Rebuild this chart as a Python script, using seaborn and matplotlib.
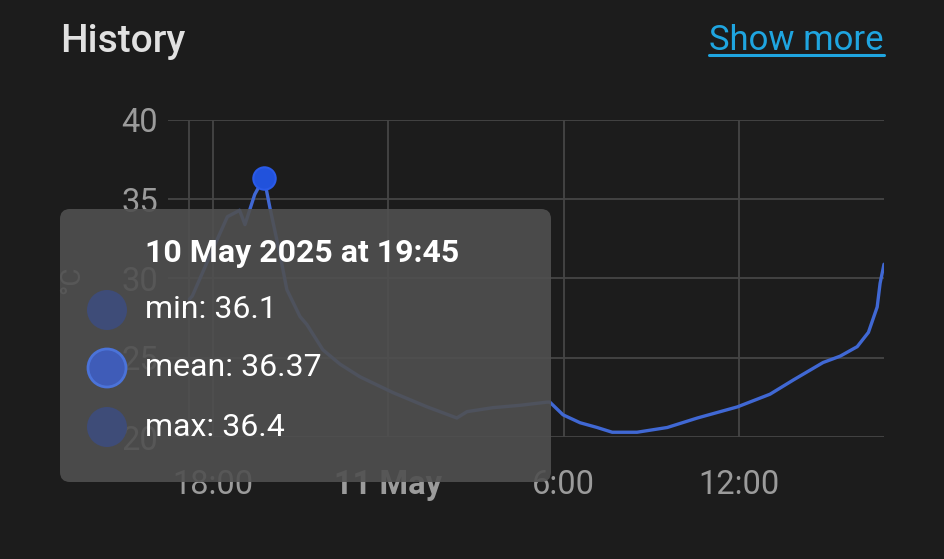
import matplotlib
matplotlib.use('Agg')
import matplotlib.pyplot as plt
import seaborn as sns
import pandas as pd
from matplotlib.patches import FancyBboxPatch, Circle
from matplotlib.lines import Line2D

sns.set_theme(style='dark')
plt.rcParams['font.family'] = ['Roboto', 'DejaVu Sans']

# temperature history (°C)
times = [
    '2025-05-10 17:12', '2025-05-10 17:18', '2025-05-10 17:55', '2025-05-10 18:30',
    '2025-05-10 18:55', '2025-05-10 19:06', '2025-05-10 19:26', '2025-05-10 19:45',
    '2025-05-10 19:57', '2025-05-10 20:18', '2025-05-10 20:32', '2025-05-10 20:59',
    '2025-05-10 21:13', '2025-05-10 21:46', '2025-05-10 22:21', '2025-05-10 23:02',
    '2025-05-11 00:10', '2025-05-11 01:20', '2025-05-11 02:21', '2025-05-11 02:42',
    '2025-05-11 03:35', '2025-05-11 04:31', '2025-05-11 05:26', '2025-05-11 05:32',
    '2025-05-11 05:59', '2025-05-11 06:34', '2025-05-11 07:09', '2025-05-11 07:40',
    '2025-05-11 08:31', '2025-05-11 09:33', '2025-05-11 10:35', '2025-05-11 11:57',
    '2025-05-11 13:04', '2025-05-11 13:52', '2025-05-11 14:53', '2025-05-11 15:28',
    '2025-05-11 16:03', '2025-05-11 16:26', '2025-05-11 16:44', '2025-05-11 16:50',
    '2025-05-11 16:58',
]
temps = [
    28.7, 28.9, 31.5, 33.9, 34.3, 33.4, 35.3, 36.37, 34.5, 31.5, 29.3, 27.6,
    27.1, 25.5, 24.6, 23.8, 22.8, 21.9, 21.2, 21.6, 21.85, 22.0, 22.2, 22.2,
    21.4, 20.9, 20.6, 20.3, 20.3, 20.6, 21.2, 21.9, 22.7, 23.6, 24.7, 25.1,
    25.7, 26.6, 28.2, 29.7, 30.9,
]

x_ticks = ['2025-05-10 18:00', '2025-05-11 00:00', '2025-05-11 06:00', '2025-05-11 12:00']
x_tick_labels = ['18:00', '11 May', '6:00', '12:00']
y_ticks = [20, 25, 30, 35, 40]
view_start = '2025-05-10 16:28'

hover_time = '2025-05-10 19:45'
hover_title = '10 May 2025 at 19:45'
hover_names = ['min', 'mean', 'max']
hover_values = ['36.1', '36.37', '36.4']

BG = '#1c1c1c'
GRID = '#454545'
LABEL = '#9b9b9b'
BLUE = '#4068d4'

df = pd.DataFrame({'time': pd.to_datetime(times), 'temp': temps})
W, H = 945, 559

fig = plt.figure(figsize=(W / 100, H / 100), dpi=100, facecolor=BG)
ax = fig.add_axes([168 / W, 1 - 437 / H, 716 / W, 317 / H])
ax.set_facecolor(BG)

sns.lineplot(data=df, x='time', y='temp', ax=ax, color=BLUE, linewidth=2.4, zorder=3)
peak = df[df['time'] == pd.Timestamp(hover_time)]
sns.scatterplot(data=peak, x='time', y='temp', ax=ax, s=260, color='#2152dc',
                edgecolor='#2a5ae8', linewidth=1.5, zorder=4)

ax.axvline(df['time'].iloc[0], color=GRID, linewidth=1.3, zorder=1)
ax.set_xlim(pd.Timestamp(view_start), df['time'].iloc[-1])
ax.set_ylim(y_ticks[0], y_ticks[-1])
ax.set_yticks(y_ticks)
ax.set_xticks(pd.to_datetime(x_ticks))
ax.set_xticklabels(x_tick_labels)
ax.get_xticklabels()[1].set_fontweight('bold')
ax.grid(True, color=GRID, linewidth=1.3)
for s in ax.spines.values():
    s.set_visible(False)
ax.tick_params(axis='x', colors=LABEL, labelsize=23.5, length=15, width=1.3,
               direction='out', pad=8)
ax.tick_params(axis='x', which='major', color=GRID)
ax.tick_params(axis='y', colors=LABEL, labelsize=23.5, length=0, pad=7)
ax.set_xlabel('')
ax.set_ylabel('°C', color=LABEL, fontsize=20)
ax.yaxis.set_label_coords(-0.116, 0.495)

# card header
fig.text(60 / W, 1 - 42 / H, 'History', color='#e1e1e1', fontsize=28,
         fontweight='medium', va='center', ha='left')
more = fig.text(884 / W, 1 - 40 / H, 'Show more', color='#1fa5e0', fontsize=25,
                va='center', ha='right')
fig.canvas.draw()
bb = more.get_window_extent()
fig.add_artist(Line2D([bb.x0 / W, bb.x1 / W], [1 - 55 / H, 1 - 55 / H],
                      color='#1fa5e0', linewidth=2.2))

# hover tooltip (pixel positions converted to inches)
tr = fig.dpi_scale_trans
def px(x, y):
    return x / 100, (H - y) / 100

box = FancyBboxPatch(px(60, 482), 491 / 100, 273 / 100,
                     boxstyle='round,pad=0,rounding_size=0.1',
                     transform=tr, facecolor='#505050', edgecolor='none',
                     alpha=0.9, zorder=5)
fig.add_artist(box)
fig.text(145 / W, 1 - 253 / H, hover_title, color='white', fontsize=23,
         fontweight='bold', va='center', ha='left', zorder=6)
row_y = [310, 368, 427]
for name, val, y in zip(hover_names, hover_values, row_y):
    if name == 'mean':
        c = Circle(px(107, y), 0.19, transform=tr, facecolor='#3f5cb8',
                   edgecolor='#4b73d9', linewidth=2, zorder=6)
    else:
        c = Circle(px(107, y), 0.2, transform=tr, facecolor='#3e4c78',
                   edgecolor='none', zorder=6)
    fig.add_artist(c)
    fig.text(145 / W, 1 - y / H, f'{name}: {val}', color='white', fontsize=23,
             va='center', ha='left', zorder=6)

fig.savefig('out.png', dpi=100, facecolor=BG)
